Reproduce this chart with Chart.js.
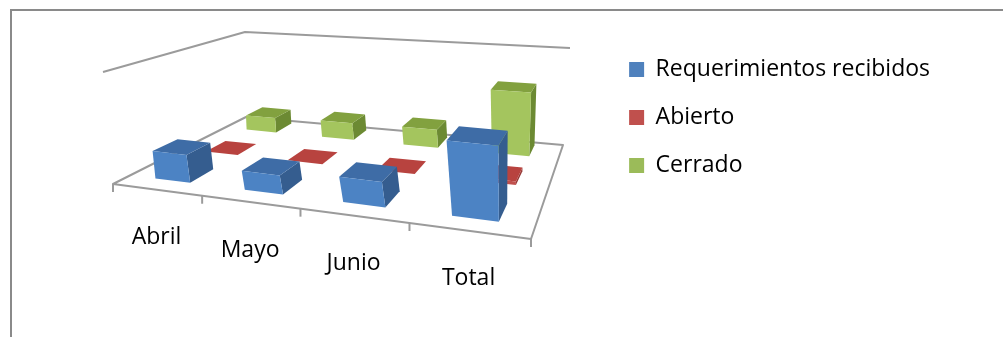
<!DOCTYPE html>
<html lang="es">
<head>
  <meta charset="UTF-8" />
  <title>Requerimientos</title>
  <script src="https://cdn.jsdelivr.net/npm/chart.js"></script>
  <style>
    body { margin: 0; background: #fff; overflow: hidden; }
    #wrap { position: relative; width: 1003px; height: 337px; }
  </style>
</head>
<body>
  <div id="wrap"><canvas id="grafico"></canvas></div>

  <script>
    // datos
    const categorias = ['Abril', 'Mayo', 'Junio', 'Total'];
    const series = ['Requerimientos recibidos', 'Abierto', 'Cerrado'];
    const recibidos = [7.5, 5, 6.5, 19];
    const abiertos = [0, 0, 0, 1];
    const cerrados = [4.7, 5.2, 5.5, 19];
    const ejeMax = 30;

    const colores = ['#4F81BD', '#C0504D', '#9BBB59'];
    // caras: frente, arriba, lado
    const caras = [
      ['#4c83c4', '#3e6ca6', '#355d8f'],
      ['#c0504d', '#b8433f', '#963835'],
      ['#a4c55e', '#82a13f', '#6c8a33']
    ];
    const fuente = '"Open Sans", sans-serif';

    // esquinas del piso y del borde superior de las paredes (pantalla)
    const piso = [{x: 113, y: 184}, {x: 531, y: 239}, {x: 563, y: 145}, {x: 246, y: 117}];
    const techo = [{x: 103, y: 72}, {x: 538, y: 116}, {x: 570, y: 48}, {x: 245, y: 32}];
    // centro de cada fila de profundidad y su grosor
    const filaInicio = 0.18, filaPaso = 0.35, filaGrosor = 0.16;

    function homografia(p0, p1, p2, p3) {
      const dx1 = p1.x - p2.x, dx2 = p3.x - p2.x, dx3 = p0.x - p1.x + p2.x - p3.x;
      const dy1 = p1.y - p2.y, dy2 = p3.y - p2.y, dy3 = p0.y - p1.y + p2.y - p3.y;
      const det = dx1 * dy2 - dx2 * dy1;
      const g = (dx3 * dy2 - dx2 * dy3) / det;
      const h = (dx1 * dy3 - dx3 * dy1) / det;
      const a = p1.x - p0.x + g * p1.x, b = p3.x - p0.x + h * p3.x, c = p0.x;
      const d = p1.y - p0.y + g * p1.y, e = p3.y - p0.y + h * p3.y, f = p0.y;
      return (u, v) => {
        const w = g * u + h * v + 1;
        return { x: (a * u + b * v + c) / w, y: (d * u + e * v + f) / w };
      };
    }

    const hPiso = homografia(...piso);
    const hTecho = homografia(...techo);

    // u: a lo largo de categorias, z: profundidad, t: altura (0..1)
    function proyectar(u, z, t) {
      const a = hPiso(u, z), b = hTecho(u, z);
      return { x: a.x + (b.x - a.x) * t, y: a.y + (b.y - a.y) * t };
    }

    function poligono(ctx, pts, color) {
      ctx.beginPath();
      ctx.moveTo(pts[0].x, pts[0].y);
      for (let k = 1; k < pts.length; k++) ctx.lineTo(pts[k].x, pts[k].y);
      ctx.closePath();
      ctx.fillStyle = color;
      ctx.fill();
    }

    const plano3d = {
      id: 'plano3d',
      beforeDraw(chart) {
        const ctx = chart.ctx;
        ctx.save();
        ctx.strokeStyle = '#8a8a8a';
        ctx.lineWidth = 2;
        ctx.strokeRect(11, 10, chart.width + 20, chart.height + 20);
        ctx.restore();
      },
      beforeDatasetsDraw(chart) {
        const { ctx, scales: { x, y } } = chart;
        const n = categorias.length;
        const paso = x.getPixelForValue(1) - x.getPixelForValue(0);
        const uDe = px => (px - x.left) / x.width;
        const tDe = v => (y.bottom - y.getPixelForValue(v)) / (y.bottom - y.top);

        ctx.save();
        ctx.lineJoin = 'round';

        // piso
        const esquinas = [[0, 0], [1, 0], [1, 1], [0, 1]].map(([u, z]) => proyectar(u, z, 0));
        poligono(ctx, esquinas, '#ffffff');
        ctx.strokeStyle = '#9b9b9b';
        ctx.lineWidth = 2;
        ctx.beginPath();
        esquinas.forEach((p, k) => k ? ctx.lineTo(p.x, p.y) : ctx.moveTo(p.x, p.y));
        ctx.closePath();
        ctx.stroke();

        // bordes superiores de las paredes
        const w0 = proyectar(0, 0, 1), w1 = proyectar(0, 1, 1), w2 = proyectar(1, 1, 1);
        ctx.beginPath();
        ctx.moveTo(w0.x, w0.y);
        ctx.lineTo(w1.x, w1.y);
        ctx.lineTo(w2.x, w2.y);
        ctx.stroke();

        // marcas del eje de categorias
        for (let k = 0; k <= n; k++) {
          const u = uDe(x.getPixelForValue(k) - paso / 2);
          const p = proyectar(u, 0, 0);
          ctx.beginPath();
          ctx.moveTo(p.x, p.y);
          ctx.lineTo(p.x, p.y + 8);
          ctx.stroke();
        }

        // etiquetas
        ctx.fillStyle = '#000';
        ctx.font = '23px ' + fuente;
        ctx.textAlign = 'center';
        ctx.textBaseline = 'middle';
        categorias.forEach((c, i) => {
          const p = proyectar(uDe(x.getPixelForValue(i)), 0, 0);
          ctx.fillText(c, p.x, p.y + 48);
        });

        // columnas 3D, de atras hacia adelante
        const nFilas = chart.data.datasets.length;
        for (let d = nFilas - 1; d >= 0; d--) {
          const meta = chart.getDatasetMeta(d);
          const zc = filaInicio + d * filaPaso;
          const z0 = zc - filaGrosor / 2, z1 = zc + filaGrosor / 2;
          const [cFrente, cArriba, cLado] = caras[d];
          meta.data.forEach((bar, i) => {
            const u0 = uDe(bar.x - bar.width / 2), u1 = uDe(bar.x + bar.width / 2);
            const t = tDe(chart.data.datasets[d].data[i]);
            const P = proyectar;
            if (t > 0) {
              poligono(ctx, [P(u1, z0, 0), P(u1, z1, 0), P(u1, z1, t), P(u1, z0, t)], cLado);
            }
            poligono(ctx, [P(u0, z0, t), P(u1, z0, t), P(u1, z1, t), P(u0, z1, t)], cArriba);
            if (t > 0) {
              poligono(ctx, [P(u0, z0, 0), P(u1, z0, 0), P(u1, z0, t), P(u0, z0, t)], cFrente);
            }
          });
        }
        ctx.restore();
        return false;
      }
    };

    new Chart(document.getElementById('grafico'), {
      type: 'bar',
      data: {
        labels: categorias,
        datasets: [
          { label: series[0], data: recibidos, backgroundColor: colores[0] },
          { label: series[1], data: abiertos, backgroundColor: colores[1] },
          { label: series[2], data: cerrados, backgroundColor: colores[2] }
        ]
      },
      options: {
        responsive: true,
        maintainAspectRatio: false,
        animation: false,
        events: [],
        grouped: false,
        categoryPercentage: 1,
        barPercentage: 0.4,
        layout: { padding: { top: 33, right: 63, left: 0, bottom: 0 } },
        scales: {
          x: { display: false },
          y: { display: false, min: 0, max: ejeMax }
        },
        plugins: {
          tooltip: { enabled: false },
          legend: {
            position: 'right',
            align: 'start',
            labels: {
              boxWidth: 15,
              boxHeight: 15,
              padding: 25,
              color: '#000',
              font: { family: fuente, size: 23 }
            }
          }
        }
      },
      plugins: [plano3d]
    });
  </script>
</body>
</html>
